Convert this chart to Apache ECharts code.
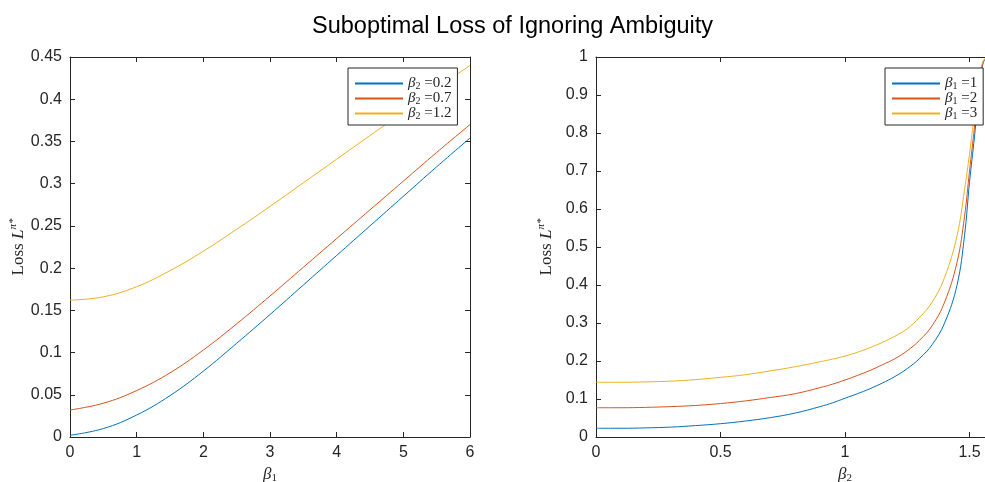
<!DOCTYPE html>
<html>
<head>
<meta charset="utf-8">
<script src="https://cdn.jsdelivr.net/npm/echarts@6/dist/echarts.min.js"></script>
<style>html,body{margin:0;padding:0;background:#fff;}#c{width:985px;height:482px;}</style>
</head>
<body>
<div id="c"></div>
<script>
// ---- Left panel data: loss vs beta1 ----
const beta1 = [0, 0.5, 1, 1.5, 2, 2.5, 3, 3.5, 4, 4.5, 5, 5.5, 6];
const lossB2_02 = [0.002, 0.010, 0.026, 0.049, 0.078, 0.111, 0.145, 0.180, 0.215, 0.250, 0.285, 0.320, 0.354];
const lossB2_07 = [0.032, 0.040, 0.055, 0.076, 0.103, 0.134, 0.167, 0.201, 0.235, 0.269, 0.303, 0.337, 0.370];
const lossB2_12 = [0.162, 0.166, 0.178, 0.197, 0.220, 0.246, 0.273, 0.301, 0.329, 0.357, 0.385, 0.413, 0.440];

// ---- Right panel data: loss vs beta2 ----
const beta2 = [0, 0.1, 0.2, 0.3, 0.4, 0.5, 0.6, 0.7, 0.8, 0.9, 0.95, 1.0, 1.05, 1.1, 1.15, 1.2, 1.25, 1.3, 1.35, 1.4, 1.45, 1.48, 1.5, 1.52, 1.54, 1.555, 1.5708];
const lossB1_1 = [0.023, 0.023, 0.024, 0.026, 0.030, 0.035, 0.042, 0.051, 0.063, 0.080, 0.090, 0.102, 0.114, 0.127, 0.142, 0.159, 0.180, 0.207, 0.243, 0.300, 0.400, 0.530, 0.670, 0.790, 0.920, 0.985, 1.0];
const lossB1_2 = [0.077, 0.077, 0.078, 0.080, 0.083, 0.088, 0.095, 0.104, 0.114, 0.130, 0.139, 0.150, 0.162, 0.175, 0.190, 0.206, 0.227, 0.255, 0.293, 0.355, 0.460, 0.580, 0.700, 0.815, 0.935, 0.987, 1.0];
const lossB1_3 = [0.144, 0.144, 0.145, 0.147, 0.151, 0.157, 0.164, 0.174, 0.185, 0.198, 0.205, 0.213, 0.223, 0.235, 0.249, 0.265, 0.285, 0.315, 0.355, 0.420, 0.530, 0.650, 0.745, 0.850, 0.950, 0.990, 1.0];

const leftNames = ['β2 =0.2', 'β2 =0.7', 'β2 =1.2'];
const rightNames = ['β1 =1', 'β1 =2', 'β1 =3'];
const colors = ['#0072BD', '#D95319', '#EDB120'];

const AX = '#262626';
const FONT = 'Liberation Sans, Arial, Helvetica, sans-serif';
const SERIF = 'Liberation Serif, DejaVu Serif, serif';

function pairs(xs, ys) { return xs.map((x, i) => [x, ys[i]]); }
function fmt(v) { return String(+v.toFixed(2)); }

const mathRich = {
  r: { fontFamily: SERIF, fontSize: 17, color: AX },
  i: { fontFamily: SERIF, fontSize: 17, fontStyle: 'italic', color: AX },
  sup: { fontFamily: SERIF, fontSize: 11, fontStyle: 'italic', color: AX, padding: [0, 0, 10, 0] },
  sub: { fontFamily: SERIF, fontSize: 11, color: AX, padding: [8, 0, 0, 0] }
};

function xAxes(grid, max, interval, nameIdx, gap) {
  return [
    {
      type: 'value', gridIndex: grid, min: 0, max: max, interval: interval, position: 'bottom',
      axisLine: { show: true, onZero: false, lineStyle: { color: AX, width: 1 } },
      axisTick: { show: true, inside: true, length: 5, lineStyle: { color: AX } },
      axisLabel: { color: AX, fontSize: 16, fontFamily: FONT, margin: 8, formatter: fmt },
      splitLine: { show: false },
      name: '{i|β}{sub|' + nameIdx + '}', nameLocation: 'middle', nameGap: gap,
      nameTextStyle: { rich: mathRich }
    },
    {
      type: 'value', gridIndex: grid, min: 0, max: max, interval: interval, position: 'top',
      axisLine: { show: true, onZero: false, lineStyle: { color: AX, width: 1 } },
      axisTick: { show: true, inside: true, length: 5, lineStyle: { color: AX } },
      axisLabel: { show: false }, splitLine: { show: false }
    }
  ];
}
function yAxes(grid, max, interval, gap) {
  return [
    {
      type: 'value', gridIndex: grid, min: 0, max: max, interval: interval, position: 'left',
      axisLine: { show: true, onZero: false, lineStyle: { color: AX, width: 1 } },
      axisTick: { show: true, inside: true, length: 5, lineStyle: { color: AX } },
      axisLabel: { color: AX, fontSize: 16, fontFamily: FONT, margin: 8, formatter: fmt },
      splitLine: { show: false },
      name: '{r|Loss }{i|L}{sup|π*}', nameLocation: 'middle', nameRotate: 90, nameGap: gap,
      nameTextStyle: { rich: mathRich }
    },
    {
      type: 'value', gridIndex: grid, min: 0, max: max, interval: interval, position: 'right',
      axisLine: { show: true, onZero: false, lineStyle: { color: AX, width: 1 } },
      axisTick: { show: true, inside: true, length: 5, lineStyle: { color: AX } },
      axisLabel: { show: false }, splitLine: { show: false }
    }
  ];
}

function legendFmt(name) {
  const m = name.match(/^β(\d) (=.*)$/);
  return '{i|β}{sub|' + m[1] + '}{r| ' + m[2] + '}';
}
const legendRich = {
  i: { fontFamily: SERIF, fontSize: 15, fontStyle: 'italic', color: AX },
  sub: { fontFamily: SERIF, fontSize: 10, color: AX, padding: [5, 0, 0, 0] },
  r: { fontFamily: SERIF, fontSize: 15, color: AX }
};
function legend(names, left) {
  return {
    data: names, orient: 'vertical', left: left, top: 68,
    itemWidth: 48, itemHeight: 14, itemGap: 0,
    padding: [8, 6, 4, 6],
    borderColor: AX, borderWidth: 1, backgroundColor: '#fff', borderRadius: 0,
    itemStyle: { opacity: 0 },
    textStyle: { rich: legendRich },
    formatter: legendFmt,
    selectedMode: false
  };
}

function line(name, xs, ys, color, xi, yi) {
  return {
    type: 'line', name: name, data: pairs(xs, ys), xAxisIndex: xi, yAxisIndex: yi,
    symbol: 'none', showSymbol: false, smooth: 0.4, animation: false,
    lineStyle: { color: color, width: 1 }, itemStyle: { color: color }
  };
}

const chart = echarts.init(document.getElementById('c'), null, { renderer: 'canvas' });
chart.setOption({
  backgroundColor: '#fff',
  animation: false,
  title: {
    text: 'Suboptimal Loss of Ignoring Ambiguity', left: 307, top: 10,
    textStyle: { fontFamily: FONT, fontSize: 23.5, fontWeight: 'normal', color: '#000' }
  },
  grid: [
    { left: 70, top: 57, width: 400, height: 380, outerBoundsMode: 'none' },
    { left: 596, top: 57, width: 498, height: 380, outerBoundsMode: 'none' }
  ],
  xAxis: [...xAxes(0, 6, 1, 1, 18), ...xAxes(1, 2, 0.5, 2, 20)],
  yAxis: [...yAxes(0, 0.45, 0.05, 40), ...yAxes(1, 1, 0.1, 31)],
  legend: [legend(leftNames, 348), legend(rightNames, 885)],
  series: [
    line(leftNames[0], beta1, lossB2_02, colors[0], 0, 0),
    line(leftNames[1], beta1, lossB2_07, colors[1], 0, 0),
    line(leftNames[2], beta1, lossB2_12, colors[2], 0, 0),
    line(rightNames[0], beta2, lossB1_1, colors[0], 2, 2),
    line(rightNames[1], beta2, lossB1_2, colors[1], 2, 2),
    line(rightNames[2], beta2, lossB1_3, colors[2], 2, 2)
  ]
});
</script>
</body>
</html>
